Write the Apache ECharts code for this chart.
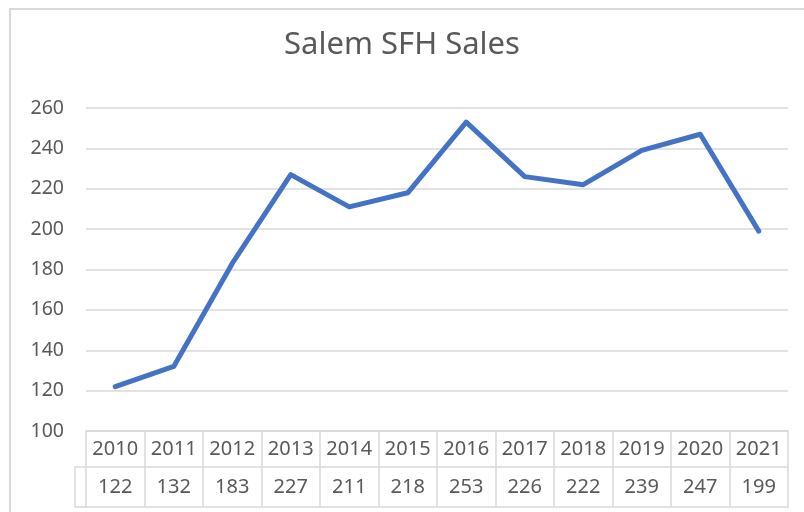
<!DOCTYPE html>
<html>
<head>
<meta charset="utf-8">
<script src="https://cdn.jsdelivr.net/npm/echarts@6/dist/echarts.min.js"></script>
<style>
html,body{margin:0;padding:0;background:#fff;}
#c{width:804px;height:512px;}
</style>
</head>
<body>
<div id="c"></div>
<script>
var titleText = 'Salem SFH Sales';
var years = ['2010','2011','2012','2013','2014','2015','2016','2017','2018','2019','2020','2021'];
var sales = [122,132,183,227,211,218,253,226,222,239,247,199];
var yTicks = {min:100, max:260, interval:20};

var FONT = 'Noto Sans';
var TXT = '#595959';
var GRID_C = '#d9d9d9';

var chart = echarts.init(document.getElementById('c'), null, {renderer:'canvas'});
chart.setOption({
  animation:false,
  backgroundColor:'#fff',
  title:{
    text:titleText, left:'center', top:25,
    textStyle:{fontFamily:FONT, fontSize:31, fontWeight:'normal', color:TXT}
  },
  grid:{left:86, right:16, top:108, bottom:81, containLabel:false},
  xAxis:[
    {
      type:'category', data:years, position:'bottom', boundaryGap:true,
      axisLine:{show:true, lineStyle:{color:GRID_C, width:1.5}},
      axisTick:{show:true, length:36, interval:0, lineStyle:{color:GRID_C, width:1.5}},
      axisLabel:{interval:0, margin:8, fontFamily:FONT, fontSize:20, color:TXT},
      splitLine:{show:false}
    },
    {
      type:'category', data:sales.map(String), position:'bottom', offset:36, boundaryGap:true,
      axisLine:{show:true, lineStyle:{color:GRID_C, width:1.5}},
      axisTick:{show:true, length:40, interval:0, lineStyle:{color:GRID_C, width:1.5}},
      axisLabel:{interval:0, margin:10, fontFamily:FONT, fontSize:20, color:TXT},
      splitLine:{show:false}
    },
    {
      type:'category', data:years, position:'bottom', offset:76, boundaryGap:true,
      axisLine:{show:true, lineStyle:{color:GRID_C, width:1.5}},
      axisTick:{show:false}, axisLabel:{show:false}, splitLine:{show:false}
    }
  ],
  yAxis:{
    type:'value', min:yTicks.min, max:yTicks.max, interval:yTicks.interval,
    axisLine:{show:false}, axisTick:{show:false},
    axisLabel:{margin:22, fontFamily:FONT, fontSize:19.5, color:TXT},
    splitLine:{show:true, lineStyle:{color:GRID_C, width:1.5}}
  },
  series:[{
    type:'line', data:sales, xAxisIndex:0, symbol:'none',
    lineStyle:{color:'#4472C4', width:5, cap:'round', join:'round'},
    itemStyle:{color:'#4472C4'}
  }],
  graphic:[
    {type:'rect', shape:{x:10, y:9, width:820, height:540}, style:{fill:'none', stroke:GRID_C, lineWidth:2}, silent:true},
    {type:'polyline', shape:{points:[[86,467],[75,467],[75,507],[86,507]]}, style:{fill:'none', stroke:GRID_C, lineWidth:1.5}, silent:true}
  ]
});
</script>
</body>
</html>
